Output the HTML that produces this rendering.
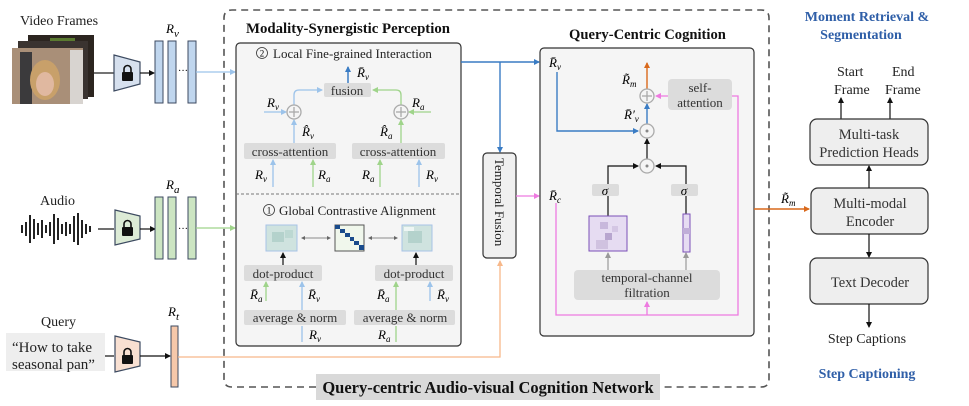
<!DOCTYPE html>
<html><head><meta charset="utf-8"><style>
html,body{margin:0;padding:0;background:#fff;}
svg{display:block;font-family:"Liberation Serif",serif;}
.m{font-style:italic;font-size:13px;}
.t{font-size:13px;fill:#333;}
.r{font-size:14.5px;fill:#333;}
</style></head><body>
<svg width="969" height="406" viewBox="0 0 969 406" xmlns="http://www.w3.org/2000/svg">
<defs>
<marker id="ak" markerWidth="6" markerHeight="6" refX="5" refY="3" orient="auto" markerUnits="userSpaceOnUse"><path d="M0,0L6,3L0,6z" fill="#111"/></marker>
<marker id="ab" markerWidth="6" markerHeight="6" refX="5" refY="3" orient="auto" markerUnits="userSpaceOnUse"><path d="M0,0L6,3L0,6z" fill="#3a7cc4"/></marker>
<marker id="alb" markerWidth="6" markerHeight="6" refX="5" refY="3" orient="auto" markerUnits="userSpaceOnUse"><path d="M0,0L6,3L0,6z" fill="#9cc3ea"/></marker>
<marker id="ag" markerWidth="6" markerHeight="6" refX="5" refY="3" orient="auto" markerUnits="userSpaceOnUse"><path d="M0,0L6,3L0,6z" fill="#9fd48a"/></marker>
<marker id="ap" markerWidth="6" markerHeight="6" refX="5" refY="3" orient="auto" markerUnits="userSpaceOnUse"><path d="M0,0L6,3L0,6z" fill="#ee7ae0"/></marker>
<marker id="ao" markerWidth="6" markerHeight="6" refX="5" refY="3" orient="auto" markerUnits="userSpaceOnUse"><path d="M0,0L6,3L0,6z" fill="#d9691c"/></marker>
<marker id="alo" markerWidth="6" markerHeight="6" refX="5" refY="3" orient="auto" markerUnits="userSpaceOnUse"><path d="M0,0L6,3L0,6z" fill="#f7b88a"/></marker>
<marker id="agr" markerWidth="6" markerHeight="6" refX="5" refY="3" orient="auto" markerUnits="userSpaceOnUse"><path d="M0,0L6,3L0,6z" fill="#999"/></marker>
</defs>

<text x="20" y="25" font-size="14" fill="#222">Video Frames</text>
<rect x="28" y="35" width="66" height="62" fill="#2c2520"/>
<rect x="50" y="38" width="25" height="15" fill="#5a7a30"/>
<rect x="18" y="41" width="70" height="58" fill="#3a3330"/>
<rect x="12" y="48" width="71" height="56" fill="#a98f78"/>
<rect x="20" y="52" width="12" height="52" fill="#3b3a3c"/>
<ellipse cx="45" cy="80" rx="15" ry="20" fill="#c8a06a"/>
<ellipse cx="45" cy="84" rx="9" ry="12" fill="#e0b8a0"/>
<rect x="70" y="50" width="13" height="54" fill="#d8d4d0"/>
<line x1="94" y1="73" x2="114" y2="73" stroke="#222" stroke-width="1.3"/>

<text x="40" y="205" font-size="14" fill="#222">Audio</text>
<g stroke="#222" stroke-width="2">
<line x1="22" y1="225" x2="22" y2="233"/><line x1="26" y1="222" x2="26" y2="236"/><line x1="30" y1="215" x2="30" y2="243"/><line x1="34" y1="219" x2="34" y2="239"/><line x1="38" y1="223" x2="38" y2="235"/><line x1="42" y1="220" x2="42" y2="238"/><line x1="46" y1="225" x2="46" y2="233"/><line x1="50" y1="222" x2="50" y2="236"/><line x1="54" y1="214" x2="54" y2="244"/><line x1="58" y1="218" x2="58" y2="240"/><line x1="62" y1="224" x2="62" y2="234"/><line x1="66" y1="222" x2="66" y2="236"/><line x1="70" y1="224" x2="70" y2="234"/><line x1="74" y1="216" x2="74" y2="242"/><line x1="78" y1="213" x2="78" y2="245"/><line x1="82" y1="220" x2="82" y2="238"/><line x1="86" y1="224" x2="86" y2="234"/><line x1="90" y1="226" x2="90" y2="232"/>
</g>
<line x1="98" y1="229" x2="114" y2="229" stroke="#222" stroke-width="1.3"/>

<text x="41" y="326" font-size="14" fill="#222">Query</text>
<rect x="6" y="333" width="99" height="38" fill="#eeeeee"/>
<text x="12" y="352" font-size="15" fill="#222">“How to take</text>
<text x="12" y="369" font-size="15" fill="#222">seasonal pan”</text>
<line x1="105" y1="356" x2="114" y2="356" stroke="#222" stroke-width="1.3"/>

<g stroke="#3c4a60" stroke-width="1.2">
<path d="M114,55 L140,62 L140,84 L114,91z" fill="#d6e0ee"/>
<path d="M115,210 L140,216 L140,239 L115,245z" fill="#dcebd6"/>
<path d="M115,336 L140,342 L140,366 L115,372z" fill="#f8e0d2"/>
</g>
<g fill="#111">
<rect x="122" y="72" width="11" height="9" rx="1"/><path d="M124,72 v-3 a3.5,3.5 0 0 1 7,0 v3" fill="none" stroke="#111" stroke-width="1.6"/>
<rect x="122" y="227" width="11" height="9" rx="1"/><path d="M124,227 v-3 a3.5,3.5 0 0 1 7,0 v3" fill="none" stroke="#111" stroke-width="1.6"/>
<rect x="122" y="355" width="11" height="9" rx="1"/><path d="M124,355 v-3 a3.5,3.5 0 0 1 7,0 v3" fill="none" stroke="#111" stroke-width="1.6"/>
</g>
<line x1="140" y1="73" x2="154" y2="73" stroke="#111" stroke-width="1.2" marker-end="url(#ak)"/>
<line x1="140" y1="229" x2="155" y2="229" stroke="#111" stroke-width="1.2" marker-end="url(#ak)"/>
<line x1="140" y1="356" x2="170" y2="356" stroke="#111" stroke-width="1.2" marker-end="url(#ak)"/>

<g stroke="#3c4a60" stroke-width="1">
<rect x="155" y="41" width="8" height="62" fill="#c0d6ee"/><rect x="168" y="41" width="8" height="62" fill="#c0d6ee"/><rect x="188" y="41" width="8" height="62" fill="#c0d6ee"/>
<rect x="155" y="197" width="8" height="62" fill="#cce5c2"/><rect x="168" y="197" width="8" height="62" fill="#cce5c2"/><rect x="188" y="197" width="8" height="62" fill="#cce5c2"/>
<rect x="171" y="326" width="7" height="61" fill="#f6c8aa"/>
</g>
<text x="178" y="74" font-size="10">···</text><text x="178" y="232" font-size="10">···</text>
<text x="166" y="33" class="m" font-size="16">R<tspan font-size="11" dy="4">v</tspan></text>
<text x="166" y="189" class="m" font-size="16">R<tspan font-size="11" dy="4">a</tspan></text>
<text x="168" y="316" class="m" font-size="16">R<tspan font-size="11" dy="4">t</tspan></text>
<line x1="196" y1="72" x2="235" y2="72" stroke="#9cc3ea" stroke-width="1.3" marker-end="url(#alb)"/>
<line x1="196" y1="228" x2="235" y2="228" stroke="#9fd48a" stroke-width="1.3" marker-end="url(#ag)"/>

<path d="M316,387 L232,387 Q224,387 224,379 L224,18 Q224,10 232,10 L761,10 Q769,10 769,18 L769,379 Q769,387 761,387 L660,387" fill="none" stroke="#555" stroke-width="1.6" stroke-dasharray="7,5"/>
<rect x="316" y="374" width="344" height="26" fill="#d9d9d9"/>
<text x="488" y="393" font-size="16.5" font-weight="bold" text-anchor="middle" fill="#111">Query-centric Audio-visual Cognition Network</text>

<path d="M178,357 L500,357 L500,261" fill="none" stroke="#f7b88a" stroke-width="1.3" marker-end="url(#alo)"/>

<text x="246" y="33" font-size="14.8" font-weight="bold" fill="#111">Modality-Synergistic Perception</text>
<rect x="236" y="43" width="225" height="303" rx="4" fill="#f5f5f5" stroke="#333" stroke-width="1.2"/>
<line x1="236" y1="194" x2="461" y2="194" stroke="#777" stroke-width="1" stroke-dasharray="3,2"/>
<circle cx="262" cy="53" r="5.5" fill="none" stroke="#333" stroke-width="0.8"/><text x="262" y="56.5" font-size="9" text-anchor="middle">2</text>
<text x="273" y="58" font-size="13" fill="#222">Local Fine-grained Interaction</text>

<rect x="324" y="83" width="47" height="14" rx="2" fill="#dcdcdc"/><text x="347" y="95" class="t" text-anchor="middle">fusion</text>
<line x1="348" y1="83" x2="348" y2="67" stroke="#3a7cc4" stroke-width="1.5" marker-end="url(#ab)"/>
<text x="357" y="77" class="m">R̄<tspan font-size="9" dy="3">v</tspan></text>
<g fill="none" stroke-width="1.3">
<path d="M294,105 L294,95 Q294,90 299,90 L322,90" stroke="#9cc3ea" marker-end="url(#alb)"/>
<path d="M401,105 L401,95 Q401,90 396,90 L373,90" stroke="#9fd48a" marker-end="url(#ag)"/>
<line x1="264" y1="112" x2="286" y2="112" stroke="#9cc3ea" marker-end="url(#alb)"/>
<line x1="431" y1="112" x2="409" y2="112" stroke="#9fd48a" marker-end="url(#ag)"/>
<line x1="294" y1="143" x2="294" y2="120" stroke="#9cc3ea" marker-end="url(#alb)"/>
<line x1="401" y1="143" x2="401" y2="120" stroke="#9fd48a" marker-end="url(#ag)"/>
<line x1="273" y1="187" x2="273" y2="160" stroke="#9cc3ea" marker-end="url(#alb)"/>
<line x1="313" y1="187" x2="313" y2="160" stroke="#9fd48a" marker-end="url(#ag)"/>
<line x1="380" y1="187" x2="380" y2="160" stroke="#9fd48a" marker-end="url(#ag)"/>
<line x1="419" y1="187" x2="419" y2="160" stroke="#9cc3ea" marker-end="url(#alb)"/>
</g>
<g fill="#f5f5f5" stroke="#aaa" stroke-width="1.3">
<circle cx="294" cy="112" r="7"/><circle cx="401" cy="112" r="7"/>
</g>
<g stroke="#aaa" stroke-width="1.3"><line x1="289" y1="112" x2="299" y2="112"/><line x1="294" y1="107" x2="294" y2="117"/><line x1="396" y1="112" x2="406" y2="112"/><line x1="401" y1="107" x2="401" y2="117"/></g>
<text x="267" y="107" class="m">R<tspan font-size="9" dy="3">v</tspan></text>
<text x="412" y="107" class="m">R<tspan font-size="9" dy="3">a</tspan></text>
<text x="302" y="136" class="m">R̂<tspan font-size="9" dy="3">v</tspan></text>
<text x="380" y="136" class="m">R̂<tspan font-size="9" dy="3">a</tspan></text>
<rect x="244" y="143" width="92" height="16" rx="2" fill="#dcdcdc"/><text x="290" y="156" class="t" text-anchor="middle">cross-attention</text>
<rect x="352" y="143" width="93" height="16" rx="2" fill="#dcdcdc"/><text x="398" y="156" class="t" text-anchor="middle">cross-attention</text>
<text x="255" y="179" class="m">R<tspan font-size="9" dy="3">v</tspan></text>
<text x="318" y="179" class="m">R<tspan font-size="9" dy="3">a</tspan></text>
<text x="362" y="179" class="m">R<tspan font-size="9" dy="3">a</tspan></text>
<text x="426" y="179" class="m">R<tspan font-size="9" dy="3">v</tspan></text>

<circle cx="269" cy="210" r="5.5" fill="none" stroke="#333" stroke-width="0.8"/><text x="269" y="213.5" font-size="9" text-anchor="middle">1</text>
<text x="279" y="215" font-size="13" fill="#222">Global Contrastive Alignment</text>
<rect x="266" y="225" width="31" height="26" fill="#cfe3df" stroke="#a7c3e6"/>
<rect x="272" y="232" width="12" height="10" fill="#b4d2cc"/><rect x="285" y="230" width="8" height="8" fill="#bcd8d2"/>
<rect x="402" y="225" width="30" height="26" fill="#cfe3df" stroke="#a7c3e6"/>
<rect x="408" y="231" width="14" height="12" fill="#b4d2cc"/><rect x="404" y="227" width="10" height="4" fill="#eef6f4"/>
<rect x="335" y="225" width="29" height="26" fill="#f0f7ec" stroke="#555"/>
<g fill="#1a4b8c"><rect x="335" y="225" width="5" height="4"/><rect x="340" y="229" width="5" height="4"/><rect x="345" y="233" width="5" height="4"/><rect x="350" y="237" width="4" height="4"/><rect x="354" y="241" width="5" height="4"/><rect x="359" y="245" width="5" height="5"/></g>
<g stroke="#666" stroke-width="0.8"><line x1="302" y1="238" x2="330" y2="238"/><line x1="369" y1="238" x2="397" y2="238"/></g>
<g fill="#666"><path d="M301,238 l4,-2 v4z"/><path d="M331,238 l-4,-2 v4z"/><path d="M368,238 l4,-2 v4z"/><path d="M398,238 l-4,-2 v4z"/></g>
<line x1="283" y1="265" x2="283" y2="253" stroke="#111" stroke-width="1.2" marker-end="url(#ak)"/>
<line x1="416" y1="265" x2="416" y2="253" stroke="#111" stroke-width="1.2" marker-end="url(#ak)"/>
<rect x="244" y="265" width="78" height="16" rx="2" fill="#dcdcdc"/><text x="283" y="278" class="t" text-anchor="middle">dot-product</text>
<rect x="375" y="265" width="78" height="16" rx="2" fill="#dcdcdc"/><text x="414" y="278" class="t" text-anchor="middle">dot-product</text>
<g fill="none" stroke-width="1.3">
<line x1="266" y1="301" x2="266" y2="282" stroke="#9fd48a" marker-end="url(#ag)"/>
<line x1="302" y1="310" x2="302" y2="282" stroke="#9cc3ea" marker-end="url(#alb)"/>
<line x1="396" y1="310" x2="396" y2="282" stroke="#9fd48a" marker-end="url(#ag)"/>
<line x1="430" y1="301" x2="430" y2="282" stroke="#9cc3ea" marker-end="url(#alb)"/>
<line x1="302" y1="342" x2="302" y2="326" stroke="#9cc3ea"/>
<line x1="396" y1="342" x2="396" y2="326" stroke="#9fd48a"/>
</g>
<text x="250" y="299" class="m">R̄<tspan font-size="9" dy="3">a</tspan></text>
<text x="308" y="299" class="m">R̄<tspan font-size="9" dy="3">v</tspan></text>
<text x="377" y="299" class="m">R̄<tspan font-size="9" dy="3">a</tspan></text>
<text x="437" y="299" class="m">R̄<tspan font-size="9" dy="3">v</tspan></text>
<rect x="244" y="310" width="102" height="15" rx="2" fill="#dcdcdc"/><text x="295" y="322" class="t" text-anchor="middle">average &amp; norm</text>
<rect x="354" y="310" width="101" height="15" rx="2" fill="#dcdcdc"/><text x="405" y="322" class="t" text-anchor="middle">average &amp; norm</text>
<text x="309" y="339" class="m">R<tspan font-size="9" dy="3">v</tspan></text>
<text x="378" y="339" class="m">R<tspan font-size="9" dy="3">a</tspan></text>

<line x1="461" y1="62" x2="539" y2="62" stroke="#3a7cc4" stroke-width="1.4" marker-end="url(#ab)"/>
<line x1="500" y1="62" x2="500" y2="152" stroke="#3a7cc4" stroke-width="1.4" marker-end="url(#ab)"/>
<rect x="483" y="153" width="33" height="105" rx="4" fill="#f0f0f0" stroke="#333" stroke-width="1.2"/>
<text transform="translate(495,158) rotate(90)" font-size="13" fill="#222">Temporal Fusion</text>
<line x1="516" y1="196" x2="539" y2="196" stroke="#ee7ae0" stroke-width="1.3" marker-end="url(#ap)"/>

<text x="569" y="39" font-size="14.6" font-weight="bold" fill="#111">Query-Centric Cognition</text>
<rect x="540" y="48" width="214" height="288" rx="4" fill="#f5f5f5" stroke="#333" stroke-width="1.2"/>
<text x="549" y="67" class="m">R̄<tspan font-size="9" dy="3">v</tspan></text>
<text x="549" y="200" class="m">R̄<tspan font-size="9" dy="3">c</tspan></text>
<path d="M557,72 L557,131 L638,131" fill="none" stroke="#3a7cc4" stroke-width="1.4" marker-end="url(#ab)"/>
<line x1="647" y1="124" x2="647" y2="104" stroke="#3a7cc4" stroke-width="1.4" marker-end="url(#ab)"/>
<line x1="647" y1="89" x2="647" y2="63" stroke="#d9691c" stroke-width="1.4" marker-end="url(#ao)"/>
<line x1="647" y1="159" x2="647" y2="139" stroke="#111" stroke-width="1.2" marker-end="url(#ak)"/>
<path d="M608,184 L608,166 L638,166" fill="none" stroke="#111" stroke-width="1.2" marker-end="url(#ak)"/>
<path d="M686,184 L686,166 L656,166" fill="none" stroke="#111" stroke-width="1.2" marker-end="url(#ak)"/>
<line x1="608" y1="196" x2="608" y2="216" stroke="#111" stroke-width="1.2"/>
<line x1="686" y1="196" x2="686" y2="214" stroke="#111" stroke-width="1.2"/>
<path d="M556,203 L556,315 L738,315 L738,96 L656,96" fill="none" stroke="#ee7ae0" stroke-width="1.3" marker-end="url(#ap)"/>
<line x1="647" y1="315" x2="647" y2="302" stroke="#ee7ae0" stroke-width="1.3" marker-end="url(#ap)"/>
<g fill="#f5f5f5" stroke="#aaa" stroke-width="1.3"><circle cx="647" cy="96" r="7"/><circle cx="647" cy="131" r="7"/><circle cx="647" cy="166" r="7"/></g>
<g stroke="#aaa" stroke-width="1.3"><line x1="642" y1="96" x2="652" y2="96"/><line x1="647" y1="91" x2="647" y2="101"/></g>
<circle cx="647" cy="131" r="1.5" fill="#888"/><circle cx="647" cy="166" r="1.5" fill="#888"/>
<text x="622" y="84" class="m">R̃<tspan font-size="9" dy="3">m</tspan></text>
<text x="624" y="119" class="m">R̄′<tspan font-size="9" dy="3">v</tspan></text>
<rect x="668" y="79" width="64" height="31" rx="4" fill="#dcdcdc"/>
<text x="700" y="92" class="t" text-anchor="middle">self-</text><text x="700" y="107" class="t" text-anchor="middle">attention</text>
<rect x="592" y="184" width="27" height="12" rx="2" fill="#dcdcdc"/><text x="605" y="195" class="m" text-anchor="middle">σ</text>
<rect x="671" y="184" width="27" height="12" rx="2" fill="#dcdcdc"/><text x="684" y="195" class="m" text-anchor="middle">σ</text>
<rect x="589" y="216" width="38" height="35" fill="#e6dcf2" stroke="#7b4fb8" stroke-width="1"/>
<rect x="600" y="222" width="8" height="7" fill="#c8b8dc"/><rect x="605" y="233" width="7" height="7" fill="#b8a6cf"/><rect x="596" y="240" width="12" height="9" fill="#d0c2e0"/><rect x="612" y="226" width="6" height="6" fill="#d4c6e4"/>
<rect x="683" y="214" width="7" height="38" fill="#e6dcf2" stroke="#7b4fb8" stroke-width="1"/><rect x="683" y="228" width="7" height="6" fill="#c0aed8"/>
<line x1="608" y1="270" x2="608" y2="253" stroke="#999" stroke-width="1.2" marker-end="url(#agr)"/>
<line x1="686" y1="270" x2="686" y2="253" stroke="#999" stroke-width="1.2" marker-end="url(#agr)"/>
<rect x="574" y="270" width="146" height="30" rx="4" fill="#dcdcdc"/>
<text x="647" y="282" class="t" text-anchor="middle">temporal-channel</text><text x="647" y="297" class="t" text-anchor="middle">filtration</text>

<line x1="754" y1="209" x2="809" y2="209" stroke="#d9691c" stroke-width="1.4" marker-end="url(#ao)"/>
<text x="781" y="203" class="m">R̃<tspan font-size="9" dy="3">m</tspan></text>

<text x="867" y="21" font-size="14" font-weight="bold" fill="#2f5fa8" text-anchor="middle">Moment Retrieval &amp;</text>
<text x="861" y="39" font-size="14" font-weight="bold" fill="#2f5fa8" text-anchor="middle">Segmentation</text>
<text x="837" y="76" font-size="14" fill="#222">Start</text><text x="892" y="76" font-size="14" fill="#222">End</text>
<text x="834" y="94" font-size="14" fill="#222">Frame</text><text x="885" y="94" font-size="14" fill="#222">Frame</text>
<line x1="841" y1="119" x2="841" y2="98" stroke="#111" stroke-width="1.2" marker-end="url(#ak)"/>
<line x1="890" y1="119" x2="890" y2="98" stroke="#111" stroke-width="1.2" marker-end="url(#ak)"/>
<g fill="#eeeeee" stroke="#333" stroke-width="1.2">
<rect x="810" y="119" width="118" height="46" rx="7"/><rect x="811" y="188" width="117" height="46" rx="7"/><rect x="810" y="258" width="118" height="46" rx="7"/>
</g>
<text x="869" y="139" class="r" text-anchor="middle">Multi-task</text>
<text x="869" y="157" class="r" text-anchor="middle">Prediction Heads</text>
<text x="870" y="208" class="r" text-anchor="middle">Multi-modal</text>
<text x="870" y="226" class="r" text-anchor="middle">Encoder</text>
<text x="870" y="287" class="r" text-anchor="middle">Text Decoder</text>
<line x1="869" y1="188" x2="869" y2="166" stroke="#111" stroke-width="1.2" marker-end="url(#ak)"/>
<line x1="869" y1="234" x2="869" y2="257" stroke="#111" stroke-width="1.2" marker-end="url(#ak)"/>
<line x1="869" y1="304" x2="869" y2="327" stroke="#111" stroke-width="1.2" marker-end="url(#ak)"/>
<text x="867" y="343" font-size="14" fill="#222" text-anchor="middle">Step Captions</text>
<text x="867" y="378" font-size="14" font-weight="bold" fill="#2f5fa8" text-anchor="middle">Step Captioning</text>
</svg>
</body></html>
